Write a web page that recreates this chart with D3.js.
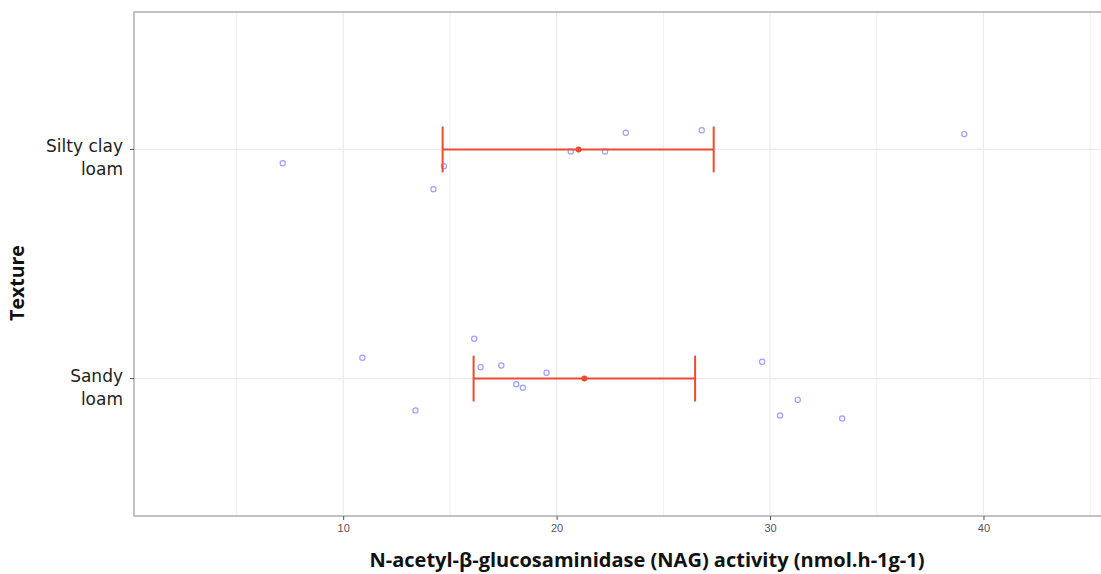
<!DOCTYPE html>
<html lang="en">
<head>
<meta charset="utf-8">
<title>NAG activity by texture</title>
<script src="https://d3js.org/d3.v7.min.js"></script>
<style>
  body{margin:0;background:#fff;}
  .tick text{font-family:"Liberation Sans",Arial,sans-serif;}
</style>
</head>
<body>
<div id="chart"></div>
<script>
// categories, top to bottom
var textures = ["Silty clay loam", "Sandy loam"]
var textureLines = {"Silty clay loam": ["Silty clay", "loam"], "Sandy loam": ["Sandy", "loam"]}

// raw observations (value, vertical jitter in category units)
var siltyValues = [7.17, 14.72, 14.23, 20.66, 22.27, 23.24, 26.80, 39.10]
var siltyJitter = [-0.060, -0.073, -0.174, -0.009, -0.009, 0.073, 0.084, 0.067]
var sandyValues = [10.90, 13.39, 16.14, 16.44, 17.41, 18.11, 18.42, 19.53, 29.63, 30.47, 31.30, 33.38]
var sandyJitter = [0.091, -0.139, 0.174, 0.049, 0.057, -0.025, -0.040, 0.025, 0.073, -0.161, -0.093, -0.174]

// summary: mean and error bar limits
var means = [21.03, 21.30]
var lowers = [14.66, 16.11]
var uppers = [27.36, 26.49]

var xTicks = [10, 20, 30, 40]
var xMinor = [5, 15, 25, 35, 45]

var W = 1101, H = 574
var margin = {top: 12, right: -2, bottom: 58, left: 134}
var w = W - margin.left - margin.right
var h = H - margin.top - margin.bottom

var svg = d3.select("#chart").append("svg")
    .attr("width", W).attr("height", H)

var g = svg.append("g")
    .attr("transform", "translate(" + margin.left + "," + margin.top + ")")

var xScale = d3.scaleLinear().domain([0.2, 45.6]).range([0, w])
// discrete y with ggplot style 0.6 expansion
var yScale = d3.scaleLinear().domain([2.6, 0.4]).range([0, h])
function yPos(cat, jit) { return yScale(2 - textures.indexOf(cat) + jit) }

// grid
g.selectAll(".minor").data(xMinor).enter().append("line")
    .attr("x1", function(d){ return xScale(d) }).attr("x2", function(d){ return xScale(d) })
    .attr("y1", 0).attr("y2", h)
    .attr("stroke", "#f0f0f0").attr("stroke-width", 1)
g.selectAll(".major").data(xTicks).enter().append("line")
    .attr("x1", function(d){ return xScale(d) }).attr("x2", function(d){ return xScale(d) })
    .attr("y1", 0).attr("y2", h)
    .attr("stroke", "#ebebeb").attr("stroke-width", 1.2)
g.selectAll(".hgrid").data(textures).enter().append("line")
    .attr("x1", 0).attr("x2", w)
    .attr("y1", function(d){ return yPos(d, 0) }).attr("y2", function(d){ return yPos(d, 0) })
    .attr("stroke", "#ebebeb").attr("stroke-width", 1.2)

// raw points
var points = []
siltyValues.forEach(function(v, i){ points.push({cat: textures[0], v: v, j: siltyJitter[i]}) })
sandyValues.forEach(function(v, i){ points.push({cat: textures[1], v: v, j: sandyJitter[i]}) })

g.selectAll(".pt").data(points).enter().append("circle")
    .attr("cx", function(d){ return xScale(d.v) })
    .attr("cy", function(d){ return yPos(d.cat, d.j) })
    .attr("r", 2.6)
    .attr("fill", "none")
    .attr("stroke", "#9f9fff")
    .attr("stroke-width", 1.2)

// error bars
var red = "#ee4a2f"
var capHalf = 0.1
textures.forEach(function(t, i){
    var yc = yPos(t, 0)
    g.append("line")
        .attr("x1", xScale(lowers[i])).attr("x2", xScale(uppers[i]))
        .attr("y1", yc).attr("y2", yc)
        .attr("stroke", red).attr("stroke-width", 2)
    ;[lowers[i], uppers[i]].forEach(function(v){
        g.append("line")
            .attr("x1", xScale(v)).attr("x2", xScale(v))
            .attr("y1", yPos(t, capHalf)).attr("y2", yPos(t, -capHalf))
            .attr("stroke", red).attr("stroke-width", 2)
    })
    g.append("circle")
        .attr("cx", xScale(means[i])).attr("cy", yc)
        .attr("r", 3).attr("fill", red)
})

// panel border
g.append("rect")
    .attr("x", 0).attr("y", 0).attr("width", w).attr("height", h)
    .attr("fill", "none").attr("stroke", "#9a9a9a").attr("stroke-width", 1.2)

// x axis
var xAxis = d3.axisBottom(xScale).tickValues(xTicks).tickSize(4).tickPadding(4)
var xa = g.append("g").attr("transform", "translate(0," + h + ")").call(xAxis)
xa.select(".domain").remove()
xa.selectAll(".tick line").attr("stroke", "#555")
xa.selectAll(".tick text").attr("fill", "#555").attr("font-size", 11)

// y axis ticks and labels, one text element per line
g.selectAll(".ytick").data(textures).enter().append("line")
    .attr("x1", -4).attr("x2", 0)
    .attr("y1", function(d){ return yPos(d, 0) }).attr("y2", function(d){ return yPos(d, 0) })
    .attr("stroke", "#555")
textures.forEach(function(t){
    var y0 = yPos(t, 0)
    textureLines[t].forEach(function(line, k){
        g.append("text")
            .attr("text-anchor", "end")
            .attr("font-family", "'DejaVu Sans', sans-serif")
            .attr("font-size", 17)
            .attr("fill", "#222")
            .attr("x", -11).attr("y", y0 + 3 + k * 23)
            .text(line)
    })
})

// axis titles
svg.append("text")
    .attr("x", 647).attr("y", 567)
    .attr("text-anchor", "middle")
    .attr("font-family", "'Open Sans', sans-serif")
    .attr("font-weight", "bold")
    .attr("font-size", 20)
    .attr("fill", "#111")
    .text("N-acetyl-β-glucosaminidase (NAG) activity (nmol.h-1g-1)")

svg.append("text")
    .attr("transform", "translate(24,283) rotate(-90)")
    .attr("text-anchor", "middle")
    .attr("font-family", "'Open Sans', sans-serif")
    .attr("font-weight", "bold")
    .attr("font-size", 19.5)
    .attr("fill", "#111")
    .text("Texture")
</script>
</body>
</html>
